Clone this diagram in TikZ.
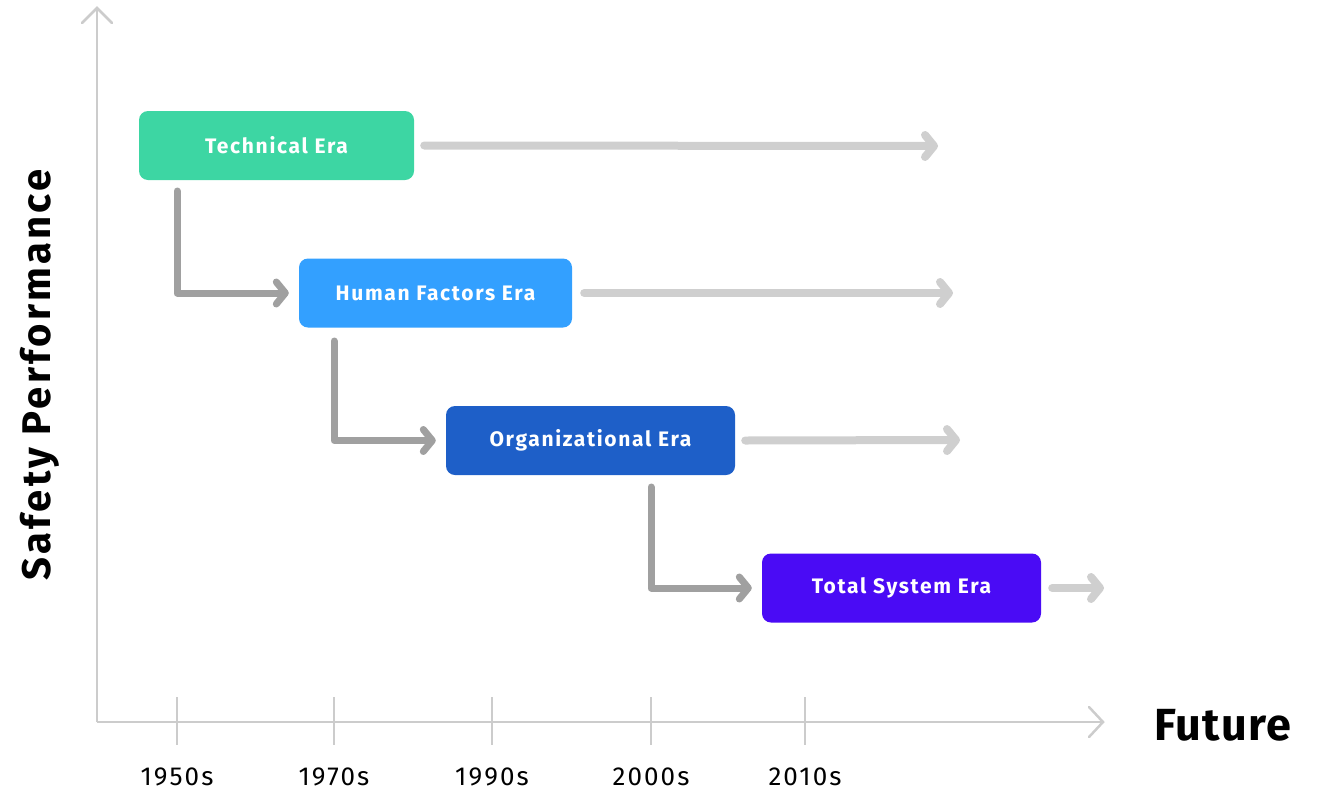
\documentclass[tikz,border=0pt]{standalone}
\usepackage{fontspec}
\setmainfont[LetterSpace=8]{Fira Sans}
\newfontfamily\futurefont[LetterSpace=3]{Fira Sans}
\usetikzlibrary{arrows.meta}
\definecolor{axisgray}{HTML}{CCCCCC}
\definecolor{lightarrow}{HTML}{CFCFCF}
\definecolor{darkarrow}{HTML}{A0A0A0}
\definecolor{techc}{HTML}{3DD6A3}
\definecolor{humanc}{HTML}{33A0FF}
\definecolor{orgc}{HTML}{1E5FC8}
\definecolor{totalc}{HTML}{4A0BF5}
\tikzset{
  erabox/.style={rounded corners=9pt, minimum height=69pt, text=white, font=\fontsize{21}{24}\selectfont\bfseries, inner sep=0pt},
  chev/.style={-{Straight Barb[length=9pt,width=22pt,line cap=round,line join=round]}},
  futurearrow/.style={draw=lightarrow, line width=8pt, line cap=round, chev},
  steparrow/.style={draw=darkarrow, line width=7pt, line cap=round, line join=round, chev},
  axisline/.style={draw=axisgray, line width=2.5pt},
  ticklab/.style={font=\fontsize{26}{30}\selectfont, anchor=center},
}
\begin{document}
\begin{tikzpicture}[x=1pt,y=-1pt]
\useasboundingbox (0,0) rectangle (1319,790);
% axes
\coordinate (origin) at (97,722);
\coordinate (ytop) at (97,8);
\coordinate (xend) at (1103,722);
\draw[axisline] (origin) -- (ytop);
\draw[axisline] (origin) -- (xend);
\draw[axisline, line cap=round] (82,23) -- (ytop) -- (112,23);
\draw[axisline, line cap=round] (1089,707) -- (xend) -- (1089,737);
% ticks and labels
\foreach \x/\lab/\nm in {177/1950s/a,334/1970s/b,492/1990s/c,651/2000s/d,805/2010s/e}{
  \draw[axisline] (\x,697) -- (\x,745);
  \node[ticklab] (y\nm) at (\x,777) {\lab};
}
\node[font=\futurefont\fontsize{45}{50}\selectfont\bfseries] (future) at (1223,725) {Future};
\node[font=\fontsize{40}{44}\selectfont\bfseries, rotate=90] (ylab) at (40,375) {Safety Performance};
% era boxes
\node[erabox, fill=techc, minimum width=275pt] (tech) at (276.5,145.5) {Technical Era};
\node[erabox, fill=humanc, minimum width=273pt] (human) at (435.5,293) {Human Factors Era};
\node[erabox, fill=orgc, minimum width=289pt] (org) at (590.5,440.5) {Organizational Era};
\node[erabox, fill=totalc, minimum width=279pt] (total) at (901.5,588) {Total System Era};
% future arrows
\coordinate (t1) at (938,146);
\coordinate (t2) at (953,293);
\coordinate (t3) at (960,440);
\coordinate (t4) at (1104,588);
\draw[futurearrow] ([xshift=10pt]tech.east) -- (t1);
\draw[futurearrow] ([xshift=12pt]human.east) -- (t2);
\draw[futurearrow] ([xshift=10pt]org.east) -- (t3);
\draw[futurearrow] ([xshift=11pt]total.east) -- (t4);
% step arrows
\draw[steparrow] (177,191) |- ([xshift=-10pt]human.west);
\draw[steparrow] (334,341) |- ([xshift=-10pt]org.west);
\draw[steparrow] (651,487) |- ([xshift=-10pt]total.west);
\end{tikzpicture}
\end{document}
